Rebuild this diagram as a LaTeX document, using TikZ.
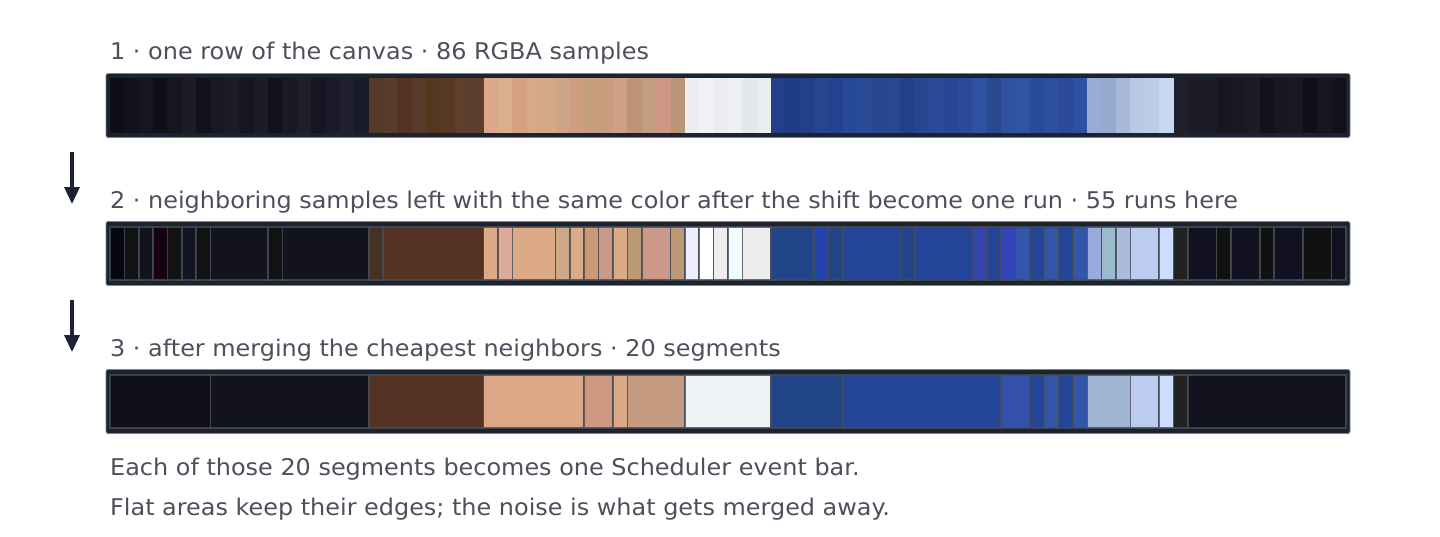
\documentclass[tikz,border=0pt]{standalone}
\usepackage{fontspec}
\setmainfont[FakeStretch=1.04]{DejaVu Sans}
\usetikzlibrary{arrows.meta}

\definecolor{framecol}{HTML}{1B2330}
\definecolor{edgecol}{HTML}{7D848E}
\definecolor{textcol}{HTML}{4B505C}
\definecolor{runedge}{HTML}{474C54}

\tikzset{
	caption/.style={anchor=base west,inner sep=0pt,text=textcol,font=\fontsize{23}{27}\selectfont},
	barframe/.style={draw=edgecol,fill=framecol,line width=0.8pt,rounded corners=1.5pt,
		minimum width=1244pt,minimum height=64pt,inner sep=0pt},
	run/.style={draw=runedge,draw opacity=0.8,line width=1.6pt},
	flow/.style={draw=framecol,line width=3.5pt,-{Triangle[width=15pt,length=17pt]}},
}

\def\sw{14.372}

\begin{document}
\begin{tikzpicture}[
		x={(1pt,0pt)},
		y={(0pt,-1pt)},
	]
		\useasboundingbox (0,0) rectangle (1440,536);
		
		% stage 1: the raw samples
		\node[caption] (title1) at (110,59) {1 · one row of the canvas · 86 RGBA samples};
		\node[barframe] (bar1) at (728,105.5) {};
		\foreach \c [count=\i from 0] in {0E0E18,12121C,161622,0F0F18,161620,1C1B26,12121C,181824,1C1B28,161622,1C1B28,12121C,1A1A26,1E1E2C,161622,1A1A28,20202E,181C28,
			553826,5A3C2A,553222,573C2C,553720,583924,603E2C,5C3E2E,
			DCA88A,D8B090,D4A084,D8A888,D4A888,CCA584,D09C84,C4A07C,C89C80,D0A084,BC9478,C49C80,CC9884,BC9478,
			EBEDF0,F0F2F5,EAECEF,EEF0F3,E4E8EA,EBECEE,
			233F88,203C84,243F8A,264590,244290,28489A,2A4A98,26468F,284893,22418A,264692,2A4A98,264694,2A4A98,3050A4,2A4990,3050A0,3252A4,2A4A98,2E4EA0,2A4A98,3050A4,
			9AACD6,96AACC,A8B8D8,B8C8E4,BCCCE8,C8D8F0,
			201F2C,1C1B26,1C1B28,18171F,1A1922,1C1B24,131119,18161F,1A1822,100E16,17151D,121018}{
			\definecolor{smp}{HTML}{\c}
			\fill[smp] ({110+\i*\sw},78) rectangle ({110+(\i+1)*\sw+0.4},133);
		}
		
		\coordinate (down1a) at (72,152);
		\coordinate (down1b) at (72,204);
		\draw[flow] (down1a) -- (down1b);
		
		% stage 2: runs of equal colour
		\node[caption] (title2) at (110,208) {2 · neighboring samples left with the same color after the shift become one run · 55 runs here};
		\node[barframe] (bar2) at (728,253.5) {};
		\foreach \a/\b/\c in {0/1/05060F,1/2/121212,2/3/13131F,3/4/140010,4/5/121212,5/6/131522,6/7/121212,7/11/131320,11/12/121212,12/18/131320,
			18/19/443322,19/26/553322,
			26/27/DDAA88,27/28/DDAA99,28/31/DDAA88,31/32/CCAA88,32/33/DDAA88,33/34/CC9977,34/35/CC9988,35/36/DDAA88,36/37/BB9977,37/39/CC9988,39/40/BB9977,
			40/41/EEEEFF,41/42/FFFFFF,42/43/EEEEEE,43/44/EEFFFF,44/46/EEEEEE,
			46/49/224488,49/50/2244AA,50/51/224488,51/55/224499,55/56/224488,56/60/224499,60/61/3344AA,61/62/224499,62/63/3344BB,63/64/3355AA,64/65/224499,65/66/3355AA,66/67/224499,67/68/3355AA,
			68/69/99AADD,69/70/99BBCC,70/71/AABBDD,71/73/BBCCEE,73/74/CCDDFF,
			74/75/222222,75/77/111122,77/78/111111,78/80/111122,80/81/111111,81/83/111122,83/85/111111,85/86/111122}{
			\definecolor{smp}{HTML}{\c}
			\draw[run,fill=smp] ({110+\a*\sw},226.8) rectangle ({110+\b*\sw},280.2);
		}
		
		\coordinate (down2a) at (72,300);
		\coordinate (down2b) at (72,352);
		\draw[flow] (down2a) -- (down2b);
		
		% stage 3: merged segments
		\node[caption] (title3) at (110,356) {3 · after merging the cheapest neighbors · 20 segments};
		\node[barframe] (bar3) at (728,401.5) {};
		\foreach \a/\b/\c in {0/7/100E17,7/18/131320,18/26/553322,
			26/33/DCA888,33/35/CC9980,35/36/DDAA88,36/40/C49A80,40/46/EEF2F5,
			46/51/224488,51/62/224499,62/64/3350AA,64/65/224499,65/66/3355AA,66/67/224499,67/68/3355AA,
			68/71/A0B4D4,71/73/BBCCEE,73/74/CCDDFF,74/75/222222,75/86/131320}{
			\definecolor{smp}{HTML}{\c}
			\draw[run,fill=smp] ({110+\a*\sw},374.8) rectangle ({110+\b*\sw},428.2);
		}
		
		\node[caption] (note1) at (110,475) {Each of those 20 segments becomes one Scheduler event bar.};
		\node[caption] (note2) at (110,515) {Flat areas keep their edges; the noise is what gets merged away.};
	\end{tikzpicture}
\end{document}
